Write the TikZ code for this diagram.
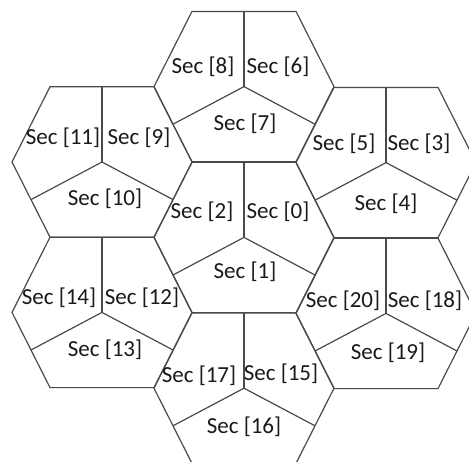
\documentclass[tikz,border=0pt]{standalone}
\usepackage{fontspec}
\setmainfont{Carlito}
\usetikzlibrary{calc}
\definecolor{edgegray}{HTML}{4A4A4A}
\definecolor{textgray}{HTML}{1A1A1A}
\tikzset{
  hexline/.style={draw=edgegray, line width=1.2pt, line join=miter},
  seclabel/.style={inner sep=0pt, text=textgray, font=\fontsize{23}{26}\selectfont}
}
\begin{document}
\begin{tikzpicture}[x=1pt,y=-1pt]
\useasboundingbox (0,0) rectangle (469,461);
\clip (0,0) rectangle (469,461);
% hexagon centers
\coordinate (hT)  at (244,86.6);
\coordinate (hLT) at (102,162);
\coordinate (hRT) at (386,162.6);
\coordinate (hM)  at (244,237.4);
\coordinate (hLB) at (102,312.4);
\coordinate (hRB) at (386,313.4);
\coordinate (hB)  at (244,388.2);
\foreach \c in {hT,hLT,hRT,hM,hLB,hRB,hB}{
  \draw[hexline] ($(\c)+(-52,-75.2)$) -- ($(\c)+(52,-75.2)$) -- ($(\c)+(90,0)$)
    -- ($(\c)+(52,75.2)$) -- ($(\c)+(-52,75.2)$) -- ($(\c)+(-90,0)$) -- cycle;
  \draw[hexline] (\c) -- ($(\c)+(0,-75.2)$);
  \draw[hexline] (\c) -- ($(\c)+(-71,37.6)$);
  \draw[hexline] (\c) -- ($(\c)+(71,37.6)$);
}
% labels
\node[seclabel] (s8)  at (203,67)  {Sec [8]};
\node[seclabel] (s6)  at (278,67)  {Sec [6]};
\node[seclabel] (s7)  at (245,124) {Sec [7]};
\node[seclabel] (s11) at (63,138)  {Sec [11]};
\node[seclabel] (s9)  at (139,138) {Sec [9]};
\node[seclabel] (s10) at (105,199) {Sec [10]};
\node[seclabel] (s5)  at (344,144) {Sec [5]};
\node[seclabel] (s3)  at (419,144) {Sec [3]};
\node[seclabel] (s4)  at (386,204) {Sec [4]};
\node[seclabel] (s2)  at (202,212) {Sec [2]};
\node[seclabel] (s0)  at (278,212) {Sec [0]};
\node[seclabel] (s1)  at (245,272) {Sec [1]};
\node[seclabel] (s14) at (59,298)  {Sec [14]};
\node[seclabel] (s12) at (142,298) {Sec [12]};
\node[seclabel] (s13) at (105,350) {Sec [13]};
\node[seclabel] (s20) at (343,301) {Sec [20]};
\node[seclabel] (s18) at (425,301) {Sec [18]};
\node[seclabel] (s19) at (388,353) {Sec [19]};
\node[seclabel] (s17) at (199,376) {Sec [17]};
\node[seclabel] (s15) at (281,374) {Sec [15]};
\node[seclabel] (s16) at (244,427) {Sec [16]};
\end{tikzpicture}
\end{document}
